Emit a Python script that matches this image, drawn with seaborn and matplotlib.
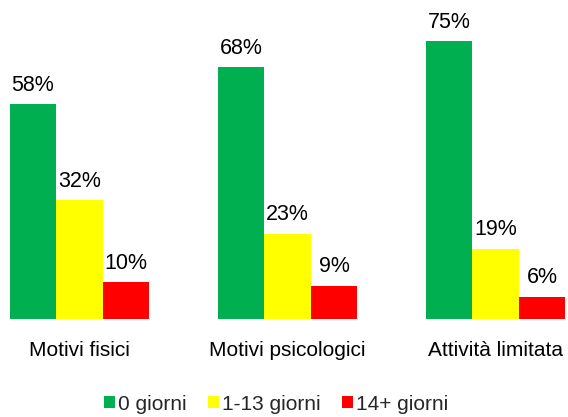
import matplotlib
matplotlib.use("Agg")
import matplotlib.pyplot as plt
import seaborn as sns
import pandas as pd
from matplotlib.patches import Patch

categories = ["Motivi fisici", "Motivi psicologici", "Attività limitata"]
series_names = ["0 giorni", "1-13 giorni", "14+ giorni"]
giorni_0 = [58, 68, 75]
giorni_1_13 = [32, 23, 19]
giorni_14 = [10, 9, 6]
colors = ["#00B050", "#FFFF00", "#FF0000"]

rows = []
for name, vals in zip(series_names, [giorni_0, giorni_1_13, giorni_14]):
    for c, v in zip(categories, vals):
        rows.append({"categoria": c, "serie": name, "valore": v})
df = pd.DataFrame(rows)

sns.set_theme(style="white")
plt.rcParams["font.family"] = ["Liberation Sans", "DejaVu Sans"]

W, H = 568, 417
fig = plt.figure(figsize=(W / 100, H / 100), dpi=100)
# axes: baseline at y=319 px from top, spans full width
ax = fig.add_axes([0, (H - 319) / H, 1, 319 / H])

sns.barplot(data=df, x="categoria", y="valore", hue="serie", order=categories,
            hue_order=series_names, palette=colors, width=0.67, saturation=1,
            edgecolor="none", linewidth=0, ax=ax, legend=False)

spacing = 208.0
ax.set_xlim(-79.5 / spacing, (W - 79.5) / spacing)
ax.set_ylim(0, 319 / 3.707)

for cont in ax.containers:
    ax.bar_label(cont, labels=[f"{int(round(b.get_height()))}%" for b in cont],
                 padding=6, fontsize=15.5, color="#000000")

ax.set_xlabel("")
ax.set_ylabel("")
ax.set_yticks([])
ax.tick_params(axis="x", length=0, pad=16, labelsize=15, labelcolor="#000000")
for s in ax.spines.values():
    s.set_visible(False)
ax.patch.set_alpha(0)

handles = [Patch(facecolor=c, edgecolor="none", label=n) for c, n in zip(colors, series_names)]
fig.legend(handles=handles, loc="center", bbox_to_anchor=(276 / W, (H - 404) / H),
           ncol=3, frameon=False, fontsize=15, handlelength=0.55, handleheight=0.55,
           handletextpad=0.15, columnspacing=1.0, borderpad=0)

fig.savefig("out.png", dpi=100)
